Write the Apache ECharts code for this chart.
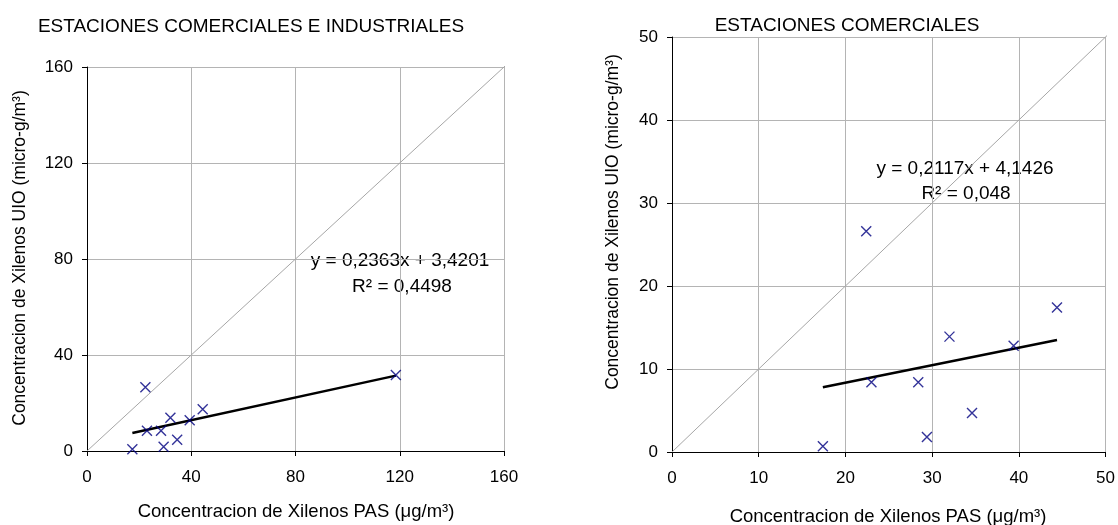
<!DOCTYPE html>
<html>
<head>
<meta charset="utf-8">
<script src="https://cdn.jsdelivr.net/npm/echarts@6/dist/echarts.min.js"></script>
<style>
html,body{margin:0;padding:0;background:#fff;}
#chart{width:1118px;height:525px;}
</style>
</head>
<body>
<div id="chart"></div>
<script>
// Left chart: commercial + industrial stations (PAS x, UIO y)
const leftPoints = [[22.4,26.6],[23.0,8.4],[28.4,8.4],[29.4,1.8],[32.0,13.9],[34.6,4.7],[39.4,12.8],[44.4,17.4],[17.4,0.7],[118.5,31.7]];
const leftTrend = [[17.4,7.5],[118.5,31.4]];
const leftTicks = [0,40,80,120,160];
// Right chart: commercial stations
const rightPoints = [[22.4,26.6],[23.0,8.4],[28.4,8.4],[29.4,1.8],[32.0,13.9],[34.6,4.7],[39.4,12.8],[44.4,17.4],[17.4,0.7]];
const rightTrend = [[17.4,7.8],[44.4,13.5]];
const rightTicks = [0,10,20,30,40,50];
const leftTitle = 'ESTACIONES COMERCIALES E INDUSTRIALES';
const rightTitle = 'ESTACIONES COMERCIALES';
const xName = 'Concentracion de Xilenos PAS (\u03bcg/m\u00b3)';
const yName = 'Concentracion de Xilenos UIO (micro-g/m\u00b3)';
const leftEq = ['y = 0,2363x + 3,4201', 'R\u00b2 = 0,4498'];
const rightEq = ['y = 0,2117x + 4,1426', 'R\u00b2 = 0,048'];

const FONT = "'Liberation Sans', Arial, sans-serif";
const chart = echarts.init(document.getElementById('chart'), null, {renderer:'canvas'});

function axis(gridIndex, ticks, isX){
  return {
    type:'value', gridIndex: gridIndex,
    min: ticks[0], max: ticks[ticks.length-1], interval: ticks[1]-ticks[0],
    axisLine:{show:true, onZero:false, lineStyle:{color:'#000', width:1}},
    axisTick:{show:true, inside:false, length:5, lineStyle:{color:'#000'}},
    axisLabel:{color:'#000', fontFamily:"Liberation Sans", fontSize:17, margin: isX?18:14},
    splitLine:{show:true, lineStyle:{color:'#b4b4b4', width:1}}
  };
}
const xMark = 'path://M0,0L10,10M10,0L0,10';
function scatter(i, data){
  return {type:'scatter', xAxisIndex:i, yAxisIndex:i, data:data, symbol:xMark, symbolSize:10,
    itemStyle:{color:'transparent', borderColor:'#00007f', borderWidth:1.4}, z:5, silent:true};
}
function line(i, data, color, width, z){
  return {type:'line', xAxisIndex:i, yAxisIndex:i, data:data, symbol:'none', clip:false,
    lineStyle:{color:color, width:width}, z:z, silent:true};
}
function text(x, y, t, rot, size){
  return {type:'text', x:x, y:y, rotation: rot||0,
    style:{text:t, fill:'#000', font:size+'px '+FONT, textAlign:'center', textVerticalAlign:'middle'}};
}

chart.setOption({
  animation:false,
  backgroundColor:'#fff',
  grid:[
    {left:87, top:67, width:417, height:384},
    {left:672, top:37, width:435, height:415}
  ],
  xAxis:[axis(0,leftTicks,true), axis(1,rightTicks,true)],
  yAxis:[axis(0,leftTicks,false), axis(1,rightTicks,false)],
  series:[
    line(0, [[0,0],[162,162]], '#a6a6a6', 1, 2),
    line(0, leftTrend, '#000', 2.5, 4),
    scatter(0, leftPoints),
    line(1, [[0,0],[50.8,50.8]], '#a6a6a6', 1, 2),
    line(1, rightTrend, '#000', 2.5, 4),
    scatter(1, rightPoints)
  ],
  graphic:[
    text(251, 27, leftTitle, 0, 19),
    text(847, 26, rightTitle, 0, 19),
    text(20, 258, yName, Math.PI/2, 17.5),
    text(613, 222, yName, Math.PI/2, 17.5),
    text(296, 512, xName, 0, 18.5),
    text(888, 517, xName, 0, 18.5),
    text(400, 261, leftEq[0], 0, 19),
    text(402, 287, leftEq[1], 0, 19),
    text(965, 169, rightEq[0], 0, 19),
    text(966, 194, rightEq[1], 0, 19)
  ]
});
</script>
</body>
</html>
